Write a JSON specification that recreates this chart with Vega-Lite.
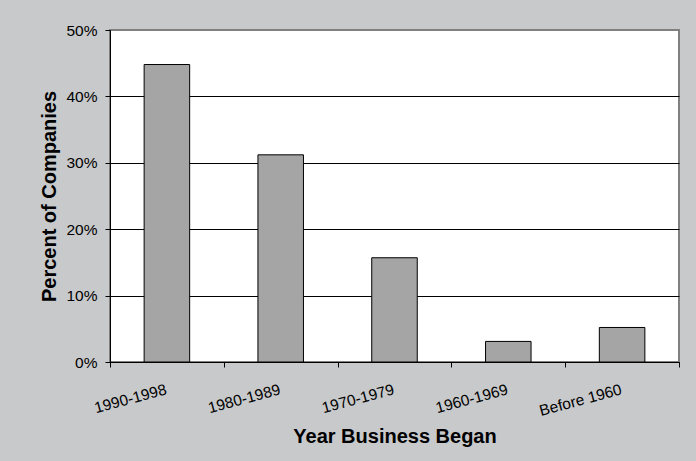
{
  "$schema": "https://vega.github.io/schema/vega-lite/v6.json",
  "autosize": {"type": "none"},
  "width": 569,
  "height": 332,
  "padding": {"left": 110, "top": 30, "right": 17, "bottom": 99},
  "background": "#c8c9cb",
  "view": {"fill": "white", "stroke": "#808080", "strokeWidth": 2},
  "data": {
    "values": [
      {"period": "1990-1998", "pct": 0.448},
      {"period": "1980-1989", "pct": 0.312},
      {"period": "1970-1979", "pct": 0.157},
      {"period": "1960-1969", "pct": 0.031},
      {"period": "Before 1960", "pct": 0.052}
    ]
  },
  "mark": {"type": "bar", "width": {"band": 0.4}, "fill": "#a5a5a5", "stroke": "black", "strokeWidth": 1},
  "encoding": {
    "x": {
      "field": "period",
      "type": "nominal",
      "sort": null,
      "scale": {"paddingInner": 0, "paddingOuter": 0},
      "axis": {
        "title": "Year Business Began",
        "titleFont": "Liberation Sans",
        "titleFontSize": 20,
        "titleFontWeight": "bold",
        "titleColor": "black",
        "titleX": 284.5,
        "titleY": 74,
        "titleBaseline": "middle",
        "labelFont": "Liberation Sans",
        "labelFontSize": 15.5,
        "labelColor": "black",
        "labelAngle": -15,
        "labelAlign": "right",
        "labelBaseline": "top",
        "labelPadding": 15,
        "labelOffset": -3,
        "tickBand": "extent",
        "tickColor": "black",
        "tickSize": 5,
        "domainColor": "black",
        "grid": false
      }
    },
    "y": {
      "field": "pct",
      "type": "quantitative",
      "scale": {"domain": [0, 0.5], "nice": false},
      "axis": {
        "title": "Percent of Companies",
        "titleFont": "Liberation Sans",
        "titleFontSize": 20,
        "titleFontWeight": "bold",
        "titleColor": "black",
        "titleX": -61,
        "titleY": 166,
        "titleAngle": -90,
        "titleBaseline": "middle",
        "titleAlign": "center",
        "values": [0, 0.1, 0.2, 0.3, 0.4, 0.5],
        "format": ".0%",
        "labelFont": "Liberation Sans",
        "labelFontSize": 15.5,
        "labelColor": "black",
        "labelPadding": 8,
        "tickColor": "black",
        "tickSize": 5,
        "domainColor": "black",
        "grid": true,
        "gridColor": {"condition": {"test": "datum.value >= 0.5", "value": "#808080"}, "value": "black"},
        "gridWidth": 1
      }
    }
  }
}
